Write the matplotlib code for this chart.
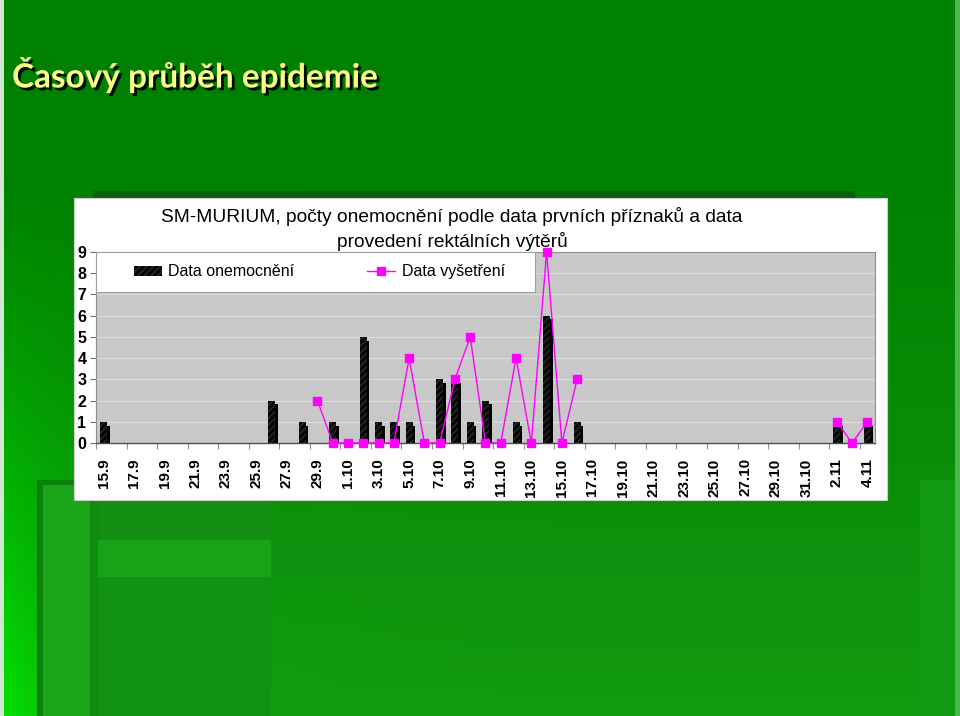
import numpy as np
import matplotlib.pyplot as plt
import matplotlib.patches as mpatches
import matplotlib.patheffects as pe
from matplotlib.lines import Line2D

plt.rcParams['font.family'] = ['Liberation Sans', 'DejaVu Sans']
plt.rcParams['hatch.linewidth'] = 0.9

# data
dates = ["15.9", "16.9", "17.9", "18.9", "19.9", "20.9", "21.9", "22.9", "23.9", "24.9",
         "25.9", "26.9", "27.9", "28.9", "29.9", "30.9",
         "1.10", "2.10", "3.10", "4.10", "5.10", "6.10", "7.10", "8.10", "9.10", "10.10",
         "11.10", "12.10", "13.10", "14.10", "15.10", "16.10", "17.10", "18.10", "19.10", "20.10",
         "21.10", "22.10", "23.10", "24.10", "25.10", "26.10", "27.10", "28.10", "29.10", "30.10",
         "31.10", "1.11", "2.11", "3.11", "4.11"]
onemocneni = [1, 0, 0, 0, 0, 0, 0, 0, 0, 0, 0, 2, 0, 1, 0, 1,
              0, 5, 1, 1, 1, 0, 3, 3, 1, 2, 0, 1, 0, 6, 0, 1,
              0, 0, 0, 0, 0, 0, 0, 0, 0, 0, 0, 0, 0, 0, 0,
              0, 1, 0, 1]
n = None
vysetreni = [n, n, n, n, n, n, n, n, n, n, n, n, n, n, 2, 0,
             0, 0, 0, 0, 4, 0, 0, 3, 5, 0, 0, 4, 0, 9, 0, 3,
             n, n, n, n, n, n, n, n, n, n, n, n, n, n, n,
             n, 1, 0, 1]

title = "Časový průběh epidemie"
chart_title = "SM-MURIUM, počty onemocnění podle data prvních příznaků a data\nprovedení rektálních výtěrů"
legend_labels = ["Data onemocnění", "Data vyšetření"]

W, H = 960, 716
fig = plt.figure(figsize=(W / 100, H / 100), dpi=100)

# ---- slide background ----
bg = fig.add_axes([0, 0, 1, 1], zorder=-1)
yy, xx = np.mgrid[0:H, 0:W]
t = np.clip((yy - 170) / 546.0, 0, 1)
g = 128 + 26 * t + 75 * t ** 1.2 * np.exp(-xx / 90.0)
r = 18 * t * (1 - np.exp(-xx / 60.0))
img = np.dstack([r, g, r * 0.9]) / 255.0
bg.imshow(np.clip(img, 0, 1), extent=(0, W, H, 0), aspect='auto')
bg.set_xlim(0, W)
bg.set_ylim(H, 0)
bg.axis('off')

deco = [  # x, y, w, h, colour
    (0, 0, 4, H, '#cfe8cf'),
    (955, 0, 5, H, '#4cb84c'),
    (37, 480, 6, H - 480, '#0b800b'),
    (37, 480, 40, 5, '#0b800b'),
    (43, 485, 47, H - 485, '#18a518'),
    (90, 485, 8, H - 485, '#0f8c0f'),
    (98, 500, 173, 40, '#128e12'),
    (98, 540, 173, 37, '#17a217'),
    (271, 540, 649, 37, '#0f900f'),
    (98, 577, 173, H - 577, '#129212'),
    (920, 480, 35, H - 480, '#139a13'),
    (93, 191, 762, 7, '#055f05'),
]
for x0, y0, w, h, c in deco:
    bg.add_patch(mpatches.Rectangle((x0, y0), w, h, color=c, lw=0))
# white chart panel
bg.add_patch(mpatches.Rectangle((74, 198), 813, 302, facecolor='white', edgecolor='#d0d0d0', lw=0.8))

fig.text(12 / W, 1 - 75 / H, title, fontsize=24, fontweight='bold', family='Lato',
         color='#ffff8c', va='center', ha='left',
         path_effects=[pe.withSimplePatchShadow(offset=(2, -2), shadow_rgbFace='black', alpha=0.9)])

fig.text(452 / W, 1 - 229 / H, chart_title, fontsize=13.8, color='black',
         ha='center', va='center', linespacing=1.35)

# ---- chart ----
ax = fig.add_axes([96 / W, 1 - 443 / H, 779 / W, 191 / H], zorder=1)
ax.set_facecolor('#c8c8c8')

x = np.arange(len(dates))
vals = np.array(onemocneni, dtype=float)
line = np.array(vysetreni, dtype=float)

mask = vals > 0
ax.bar(x[mask] + 0.17, vals[mask] - 0.18, width=0.46, color='black', lw=0, zorder=2)
ax.bar(x[mask], vals[mask], width=0.46, facecolor='#080808', edgecolor='#2e2e2e',
       hatch='/////', lw=0, zorder=3)
ax.plot(x, line, color='#ff00ff', lw=1.0, marker='s', markersize=5.5,
        markerfacecolor='#ff00ff', markeredgecolor='#ff00ff', zorder=4, clip_on=False)

ax.set_xlim(-0.5, len(dates) - 0.5)
ax.set_ylim(0, 9)
ax.set_yticks(range(0, 10))
ax.yaxis.grid(True, color='#dcdcdc', lw=0.8)
ax.set_axisbelow(True)
ax.tick_params(axis='y', length=4, width=0.8, color='#707070', pad=3)
for lab in ax.get_yticklabels():
    lab.set_fontsize(11.5)
    lab.set_fontweight('bold')

ax.set_xticks(np.arange(-0.5, len(dates) - 1, 2))
ax.set_xticklabels([])
ax.set_xticks(x[::2], labels=dates[::2], minor=True)
ax.tick_params(axis='x', which='major', length=4, width=0.8, color='#909090')
ax.tick_params(axis='x', which='minor', length=0, pad=11)
for lab in ax.get_xticklabels(minor=True):
    lab.set_rotation(90)
    lab.set_fontsize(11)
    lab.set_fontweight('bold')
    lab.set_va('top')
    lab.set_ha('center')

for s in ['top', 'right', 'left']:
    ax.spines[s].set_color('#909090')
    ax.spines[s].set_linewidth(0.8)
ax.spines['bottom'].set_color('#505050')
ax.spines['bottom'].set_linewidth(1.0)

# legend box sits inside the plot, top-left
ax.add_patch(mpatches.Rectangle((0, 0.791), 0.5636, 0.209, transform=ax.transAxes,
                                facecolor='white', edgecolor='#a0a0a0', lw=0.8, zorder=5))
handles = [mpatches.Patch(facecolor='#080808', edgecolor='#2e2e2e', hatch='/////', lw=0),
           Line2D([], [], color='#ff00ff', lw=1.0, marker='s', markersize=5.5)]
leg = ax.legend(handles, legend_labels, loc='center left', bbox_to_anchor=(0.04, 0.896),
                ncol=2, frameon=False, fontsize=11.5, handlelength=1.75, handleheight=0.6,
                handletextpad=0.4, columnspacing=4.6, borderaxespad=0)
leg.set_zorder(6)

fig.savefig('out.png', dpi=100)
